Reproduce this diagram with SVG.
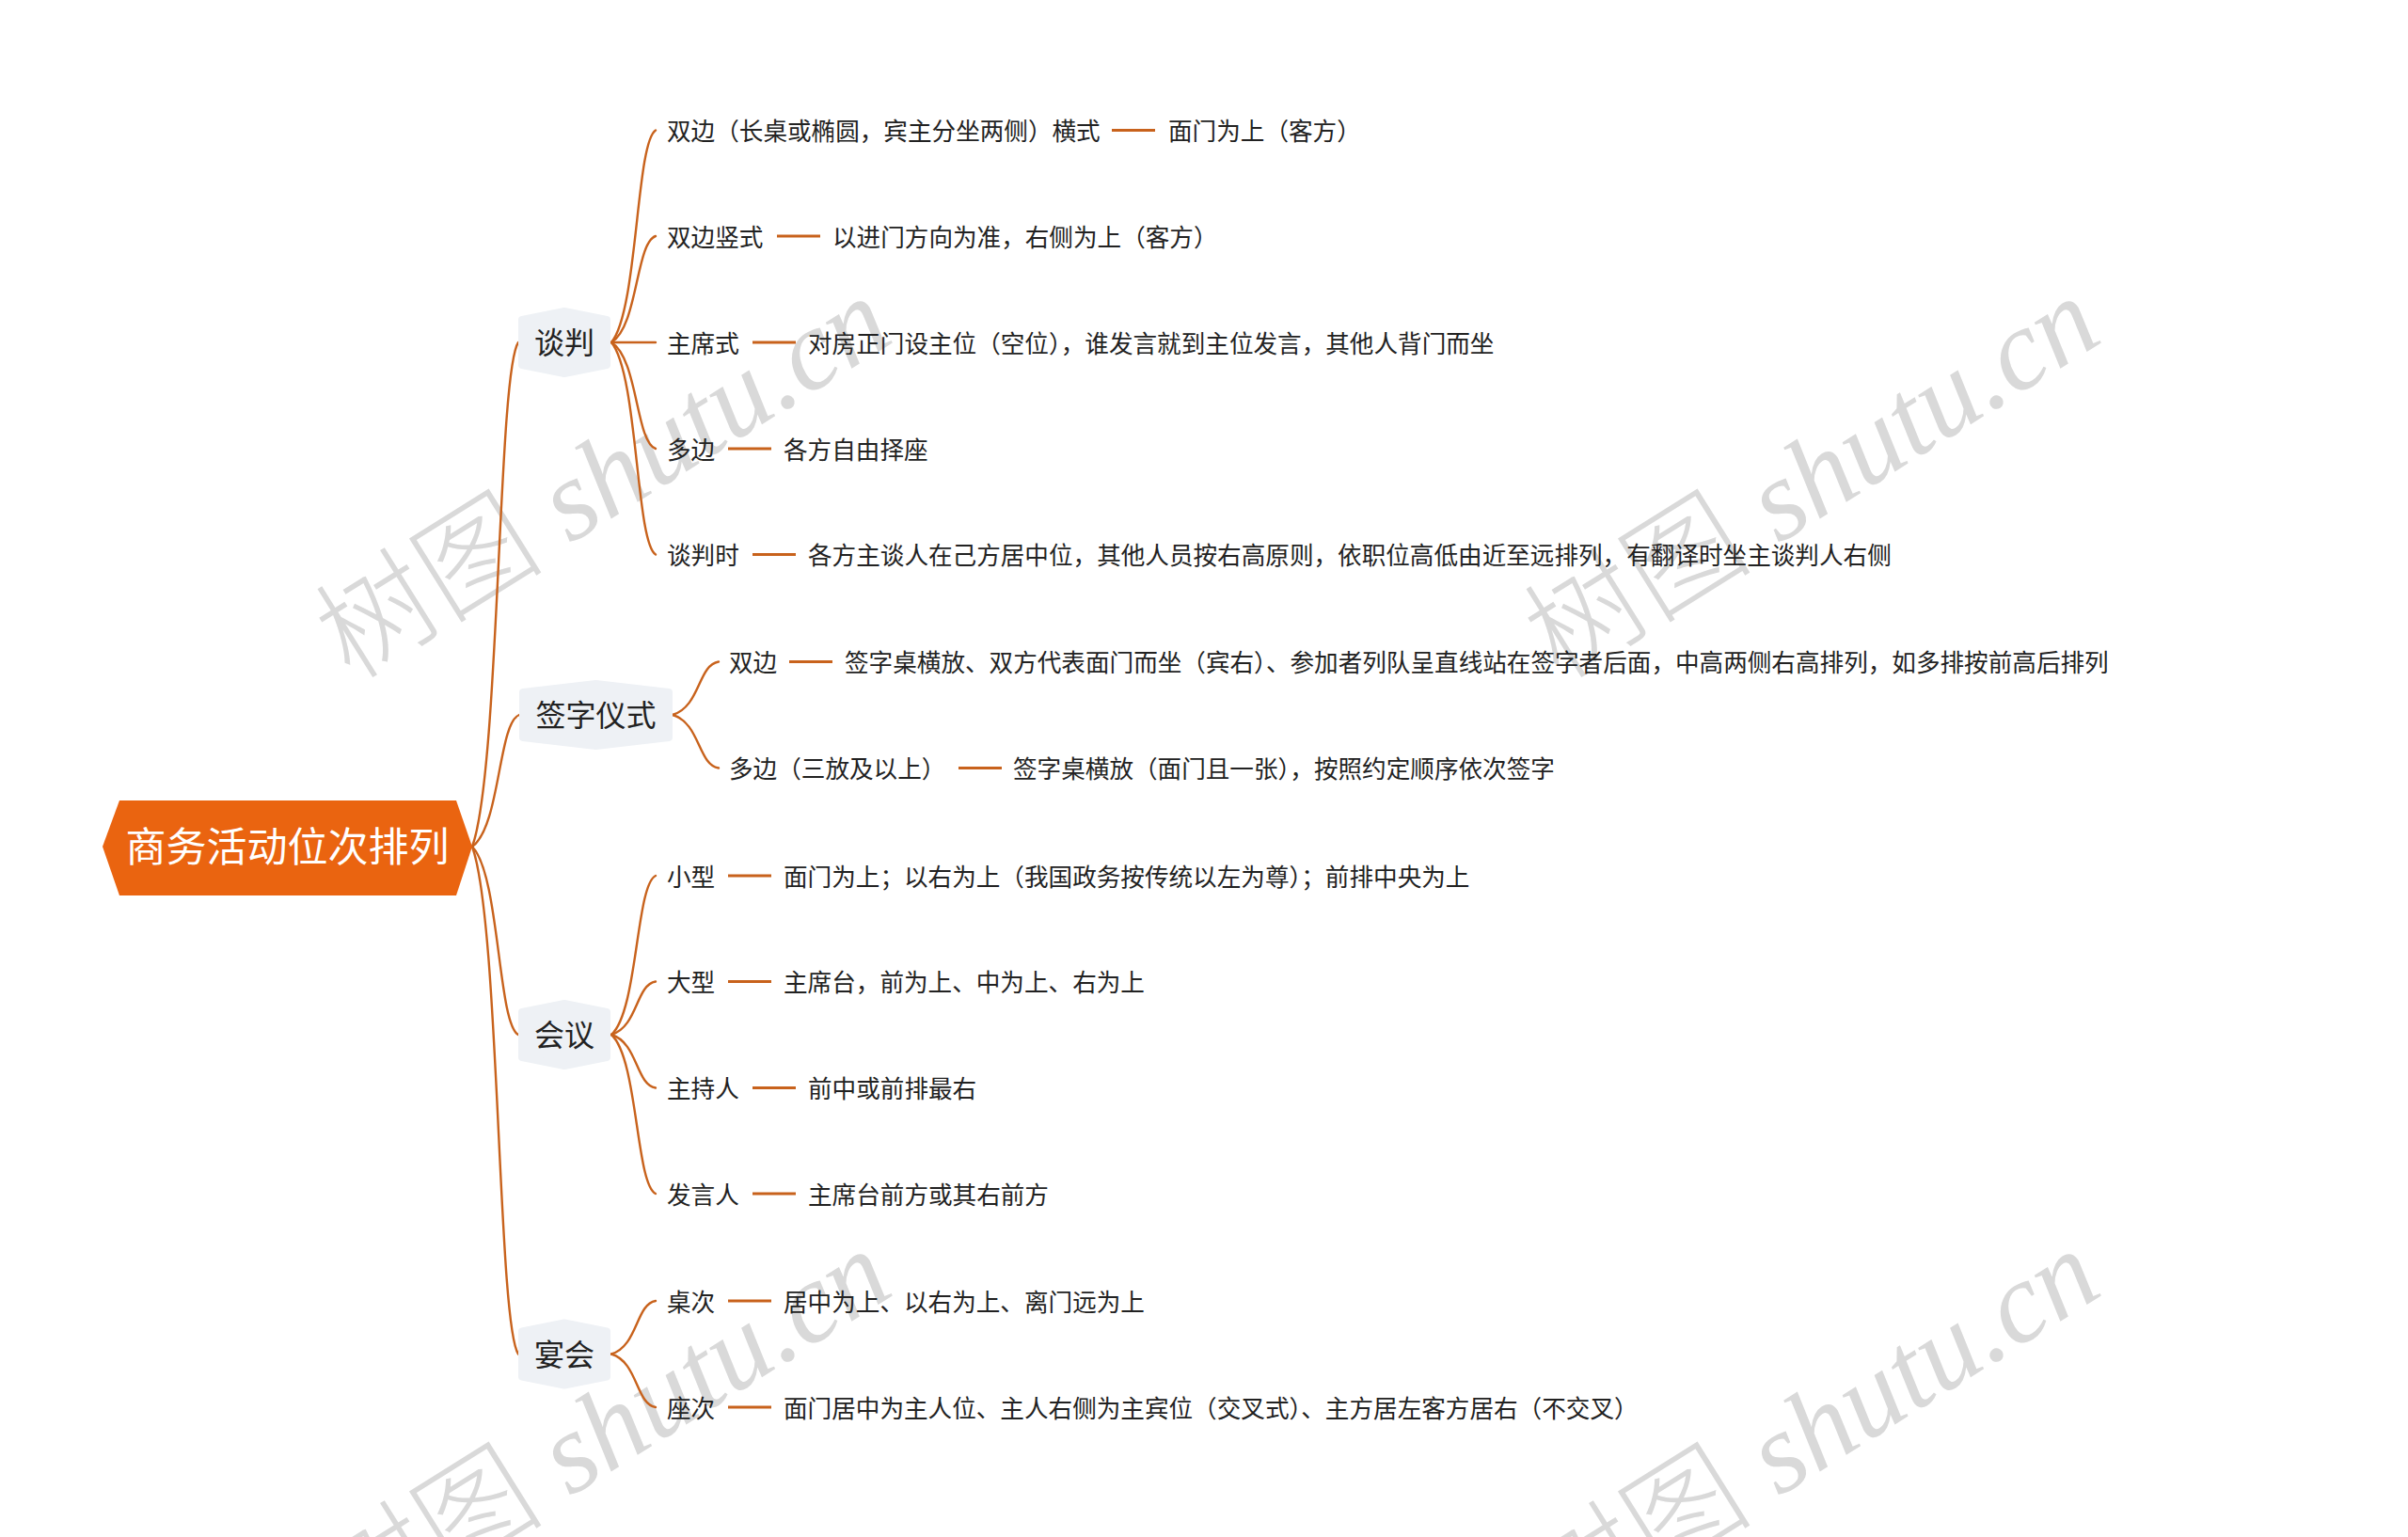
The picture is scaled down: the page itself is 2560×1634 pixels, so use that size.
<svg xmlns="http://www.w3.org/2000/svg" width="2560" height="1634" viewBox="0 0 2560 1634">
<style>
.wm{font-family:"Liberation Serif","Noto Sans CJK SC",serif;font-style:italic;font-size:122px;fill:#d9d9d9;}
.wmc{font-family:"Noto Sans CJK SC",serif;font-style:normal;font-weight:300;}
.con{fill:none;stroke:#C8621C;stroke-width:2.4;stroke-linecap:round;}
.dash{stroke:#C8621C;stroke-width:3;}
.t{font-family:"Noto Sans CJK SC","Noto Sans",sans-serif;font-size:25.6px;fill:#222;}
.l1{font-family:"Noto Sans CJK SC","Noto Sans",sans-serif;font-size:32px;fill:#222;text-anchor:middle;}
.l1box{fill:#EEF1F5;stroke:#EEF1F5;stroke-width:8;stroke-linejoin:round;}
.root{font-family:"Noto Sans CJK SC","Noto Sans",sans-serif;font-size:43px;fill:#fff;text-anchor:middle;}
</style>
<rect width="2560" height="1634" fill="#ffffff"/>
<g id="watermarks">
<text class="wm" transform="translate(642,509) rotate(-32)" text-anchor="middle" y="40"><tspan class="wmc">树图</tspan> shutu.cn</text>
<text class="wm" transform="translate(1927,509) rotate(-32)" text-anchor="middle" y="40"><tspan class="wmc">树图</tspan> shutu.cn</text>
<text class="wm" transform="translate(642,1522) rotate(-32)" text-anchor="middle" y="40"><tspan class="wmc">树图</tspan> shutu.cn</text>
<text class="wm" transform="translate(1927,1522) rotate(-32)" text-anchor="middle" y="40"><tspan class="wmc">树图</tspan> shutu.cn</text>
</g>
<g id="connectors">
<path class="con" d="M502,900 C531.4,819.6 529,396.2 551,364"/>
<path class="con" d="M502,900 C532,879 529.5,768.4 552,760"/>
<path class="con" d="M502,900 C531.4,930 529,1088 551,1100"/>
<path class="con" d="M502,900 C531.4,980.9 529,1407.1 551,1439.5"/>
<path class="con" d="M650,364 C678.2,330.3 675.9,152 697,138.5"/>
<path class="con" d="M650,364 C678.2,347.1 675.9,257.8 697,251"/>
<path class="con" d="M650,364 L697,364"/>
<path class="con" d="M650,364 C678.2,381 675.9,470.2 697,477"/>
<path class="con" d="M650,364 C678.2,397.9 675.9,576 697,589.5"/>
<path class="con" d="M715,760 C744.4,751.5 742,706.9 764,703.5"/>
<path class="con" d="M715,760 C744.4,768.5 742,813.1 764,816.5"/>
<path class="con" d="M650,1100 C678.2,1074.7 675.9,941.1 697,931"/>
<path class="con" d="M650,1100 C678.2,1091.5 675.9,1046.9 697,1043.5"/>
<path class="con" d="M650,1100 C678.2,1108.5 675.9,1153.1 697,1156.5"/>
<path class="con" d="M650,1100 C678.2,1125.4 675.9,1258.9 697,1269"/>
<path class="con" d="M650,1439.5 C678.2,1431 675.9,1386.4 697,1383"/>
<path class="con" d="M650,1439.5 C678.2,1448 675.9,1492.6 697,1496"/>
<line class="dash" x1="1182" y1="138.5" x2="1228" y2="138.5"/>
<line class="dash" x1="826" y1="251" x2="872" y2="251"/>
<line class="dash" x1="800" y1="364" x2="846" y2="364"/>
<line class="dash" x1="774" y1="477" x2="820" y2="477"/>
<line class="dash" x1="800" y1="589.5" x2="846" y2="589.5"/>
<line class="dash" x1="839" y1="703.5" x2="885" y2="703.5"/>
<line class="dash" x1="1019" y1="816.5" x2="1065" y2="816.5"/>
<line class="dash" x1="774" y1="931" x2="820" y2="931"/>
<line class="dash" x1="774" y1="1043.5" x2="820" y2="1043.5"/>
<line class="dash" x1="800" y1="1156.5" x2="846" y2="1156.5"/>
<line class="dash" x1="800" y1="1269" x2="846" y2="1269"/>
<line class="dash" x1="774" y1="1383" x2="820" y2="1383"/>
<line class="dash" x1="774" y1="1496" x2="820" y2="1496"/>
</g>
<g id="root">
<polygon points="109,900 127,851 485,851 502,900 485,952 127,952" fill="#EA6410"/>
<text class="root" x="305.5" y="916">商务活动位次排列</text>
</g>
<g id="n-tanpan">
<polygon class="l1box" points="555,340 600,331 645,340 645,388 600,397 555,388"/>
<text class="l1" x="600" y="376">谈判</text>
</g>
<g id="n-qianzi">
<polygon class="l1box" points="556,736 633.5,727 711,736 711,784 633.5,793 556,784"/>
<text class="l1" x="633.5" y="772">签字仪式</text>
</g>
<g id="n-huiyi">
<polygon class="l1box" points="555,1076 600,1067 645,1076 645,1124 600,1133 555,1124"/>
<text class="l1" x="600" y="1112">会议</text>
</g>
<g id="n-yanhui">
<polygon class="l1box" points="555,1415.5 600,1406.5 645,1415.5 645,1463.5 600,1472.5 555,1463.5"/>
<text class="l1" x="600" y="1451.5">宴会</text>
</g>
<g id="n-tp1"><text class="t" x="709" y="149">双边（长桌或椭圆，宾主分坐两侧）横式</text><text class="t" x="1242" y="149">面门为上（客方）</text></g>
<g id="n-tp2"><text class="t" x="709" y="261.5">双边竖式</text><text class="t" x="885" y="261.5">以进门方向为准，右侧为上（客方）</text></g>
<g id="n-tp3"><text class="t" x="709" y="374.5">主席式</text><text class="t" x="859" y="374.5">对房正门设主位（空位），谁发言就到主位发言，其他人背门而坐</text></g>
<g id="n-tp4"><text class="t" x="709" y="487.5">多边</text><text class="t" x="833" y="487.5">各方自由择座</text></g>
<g id="n-tp5"><text class="t" x="709" y="600">谈判时</text><text class="t" x="859" y="600">各方主谈人在己方居中位，其他人员按右高原则，依职位高低由近至远排列，有翻译时坐主谈判人右侧</text></g>
<g id="n-qz1"><text class="t" x="775" y="714">双边</text><text class="t" x="898" y="714">签字桌横放、双方代表面门而坐（宾右）、参加者列队呈直线站在签字者后面，中高两侧右高排列，如多排按前高后排列</text></g>
<g id="n-qz2"><text class="t" x="775" y="827">多边（三放及以上）</text><text class="t" x="1077" y="827">签字桌横放（面门且一张），按照约定顺序依次签字</text></g>
<g id="n-hy1"><text class="t" x="709" y="941.5">小型</text><text class="t" x="833" y="941.5">面门为上；以右为上（我国政务按传统以左为尊）；前排中央为上</text></g>
<g id="n-hy2"><text class="t" x="709" y="1054">大型</text><text class="t" x="833" y="1054">主席台，前为上、中为上、右为上</text></g>
<g id="n-hy3"><text class="t" x="709" y="1167">主持人</text><text class="t" x="859" y="1167">前中或前排最右</text></g>
<g id="n-hy4"><text class="t" x="709" y="1279.5">发言人</text><text class="t" x="859" y="1279.5">主席台前方或其右前方</text></g>
<g id="n-yh1"><text class="t" x="709" y="1393.5">桌次</text><text class="t" x="833" y="1393.5">居中为上、以右为上、离门远为上</text></g>
<g id="n-yh2"><text class="t" x="709" y="1506.5">座次</text><text class="t" x="833" y="1506.5">面门居中为主人位、主人右侧为主宾位（交叉式）、主方居左客方居右（不交叉）</text></g>
</svg>
